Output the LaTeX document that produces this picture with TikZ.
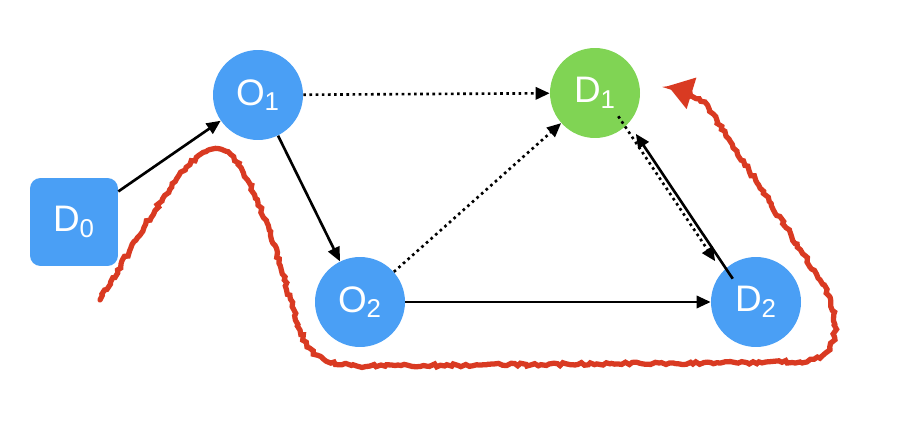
\documentclass[tikz,border=0pt]{standalone}
\usepackage{fontspec}
\setmainfont{Liberation Sans}
\usetikzlibrary{arrows.meta,positioning,decorations.pathmorphing}
\definecolor{nodeblue}{HTML}{4A9FF5}
\definecolor{nodegreen}{HTML}{80D454}
\definecolor{pathred}{HTML}{D93A22}
\begin{document}
\begin{tikzpicture}[
  x=0.02cm, y=-0.02cm,
  every node/.style={font=\fontsize{21}{24}\selectfont, text=white},
  station/.style={circle, minimum size=1.8cm, inner sep=0pt, fill=nodeblue},
  depot/.style={rectangle, rounded corners=6pt, minimum size=1.76cm, inner sep=0pt, fill=nodeblue},
  link/.style={-{Triangle[length=8pt,width=7pt]}, line width=1.5pt, black},
  hint/.style={link, dotted},
]
\useasboundingbox (0,0) rectangle (898,438);

% Nodes
\node[depot] (d0) at (74,222) {D\textsubscript{0}};
\node[station] (o1) at (258,95) {O\textsubscript{1}};
\node[station, fill=nodegreen] (d1) at (595,93) {D\textsubscript{1}};
\node[station] (o2) at (360,302) {O\textsubscript{2}};
\node[station] (d2) at (756,302) {D\textsubscript{2}};

% Connectors
\draw[link] (d0) -- (o1);
\draw[link] (o1) -- (o2);
\draw[link] (o2) -- (d2);
\draw[hint] (o1) -- (d1);
\draw[hint] (o2) -- (d1);
\draw[hint] ([xshift=-5pt,yshift=5pt]d1.-45) -- ([xshift=-5pt,yshift=5pt]d2.135);
\draw[link] ([xshift=5pt,yshift=-5pt]d2.135) -- ([xshift=5pt,yshift=-5pt]d1.-45);

% Route
\draw[pathred, line width=3pt, line cap=round,
      decorate, decoration={random steps, segment length=2pt, amplitude=0.9pt},
      -{Triangle[length=14pt,width=18pt]}]
  (100,300) .. controls (160,200) and (200,130) .. (228,152)
  .. controls (265,190) and (285,290) .. (300,330)
  .. controls (310,360) and (330,366) .. (370,366)
  -- (800,362) .. controls (840,360) and (845,320) .. (820,280)
  -- (705,102) -- (668,86);
\end{tikzpicture}
\end{document}
